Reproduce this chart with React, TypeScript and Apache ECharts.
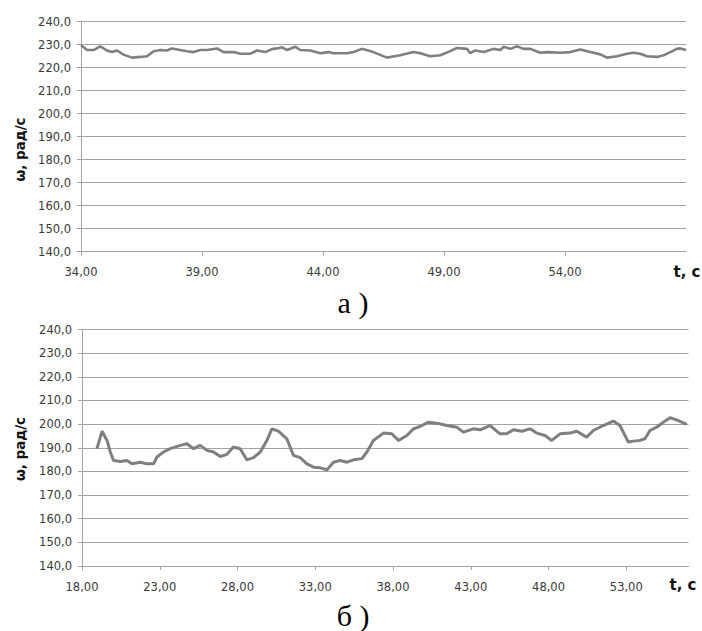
import React, { useEffect, useRef } from "react";
import * as echarts from "echarts";

// Chart а): time, s
const topT = [
  34.0, 34.25, 34.52, 34.8, 35.07, 35.28, 35.49, 35.76, 36.11, 36.45, 36.73, 37.0, 37.28, 37.55, 37.76,
  38.1, 38.38, 38.65, 38.93, 39.21, 39.62, 39.89, 40.31, 40.58, 41.0, 41.27, 41.62, 41.89, 42.1, 42.31,
  42.51, 42.86, 43.06, 43.48, 43.89, 44.23, 44.44, 44.99, 45.26, 45.61, 46.08, 46.64, 47.19, 47.74,
  48.02, 48.43, 48.85, 49.26, 49.54, 49.95, 50.09, 50.29, 50.64, 51.05, 51.33, 51.46, 51.74, 52.02,
  52.29, 52.57, 52.98, 53.26, 53.81, 54.22, 54.63, 55.05, 55.46, 55.74, 56.15, 56.56, 56.83, 57.11,
  57.39, 57.8, 58.07, 58.35, 58.62, 58.76, 59.0,
];
// Chart а): ω, rad/s
const topW = [
  229.7, 227.6, 227.6, 229.2, 227.4, 226.7, 227.4, 225.6, 224.3, 224.6, 224.9, 227.1, 227.6, 227.4, 228.3,
  227.6, 227.1, 226.7, 227.6, 227.6, 228.3, 226.7, 226.7, 226.0, 226.0, 227.4, 226.7, 228.0, 228.3, 228.8,
  227.6, 229.0, 227.6, 227.4, 226.2, 226.7, 226.2, 226.2, 226.7, 228.1, 226.7, 224.3, 225.3, 226.7,
  226.2, 224.9, 225.3, 227.1, 228.5, 228.1, 226.2, 227.4, 226.7, 228.1, 227.6, 229.0, 228.1, 229.2,
  228.1, 228.1, 226.4, 226.7, 226.4, 226.7, 227.8, 226.7, 225.7, 224.3, 224.9, 226.0, 226.4, 226.0,
  224.9, 224.6, 225.3, 226.7, 228.1, 228.3, 227.6,
];

// Chart б): time, s
const botT = [
  18.96, 19.29, 19.61, 19.82, 20.03, 20.46, 20.89, 21.21, 21.75, 22.18, 22.6, 22.82, 23.24, 23.67, 24.32,
  24.75, 25.17, 25.6, 26.03, 26.46, 26.89, 27.32, 27.74, 28.17, 28.6, 29.03, 29.46, 29.89, 30.21, 30.63,
  31.17, 31.6, 32.03, 32.46, 32.89, 33.32, 33.75, 34.17, 34.6, 35.03, 35.46, 36.0, 36.32, 36.74, 37.38,
  37.92, 38.35, 38.89, 39.31, 39.74, 40.28, 40.81, 41.46, 42.1, 42.52, 43.17, 43.6, 44.24, 44.88, 45.31,
  45.74, 46.28, 46.81, 47.24, 47.77, 48.21, 48.74, 49.38, 49.81, 50.45, 50.88, 51.52, 52.16, 52.59,
  53.13, 53.45, 53.88, 54.2, 54.52, 54.95, 55.38, 55.81, 56.24, 56.88,
];
// Chart б): ω, rad/s
const botW = [
  189.6, 197.0, 193.1, 188.2, 184.6, 184.2, 184.6, 183.2, 183.9, 183.2, 183.2, 186.1, 188.2, 189.6, 191.0,
  191.7, 189.6, 191.0, 188.9, 188.2, 186.3, 187.2, 190.3, 189.6, 184.9, 185.8, 188.2, 193.1, 198.0, 197.0,
  193.8, 186.8, 185.8, 183.2, 181.8, 181.5, 180.7, 183.9, 184.6, 183.9, 184.9, 185.4, 188.2, 193.1, 196.2,
  195.9, 193.1, 195.2, 198.0, 199.0, 200.8, 200.4, 199.4, 198.7, 196.6, 198.0, 197.6, 199.4, 195.9, 195.9,
  197.6, 197.0, 198.0, 196.2, 195.2, 193.1, 195.9, 196.2, 197.0, 194.5, 197.3, 199.4, 201.3, 199.4,
  192.4, 192.8, 193.1, 193.8, 197.3, 198.7, 200.8, 202.7, 201.8, 199.9,
];

const captions = ["а )", "б )"];
const yName = "ω, рад/с";
const xName = "t, с";

const FONT = "DejaVu Sans";
const GRID_COLOR = "#a3a3a3";
const LINE_COLOR = "#7f7f7f";

export default function App() {
  const ref = useRef<HTMLDivElement>(null);
  useEffect(() => {
    if (!ref.current) return;
    const chart = echarts.init(ref.current, undefined, { renderer: "svg" });
    const fmtY = (v: number) => v.toFixed(1).replace(".", ",");
    const fmtX = (v: number) => v.toFixed(2).replace(".", ",");
    const xAxisBase = (min: number, max: number, gi: number, margin: number) => ({
      type: "value",
      gridIndex: gi,
      min,
      max,
      interval: 5,
      axisLine: { show: true, lineStyle: { color: GRID_COLOR, width: 1 } },
      axisTick: { show: true, inside: false, length: 4, lineStyle: { color: GRID_COLOR } },
      splitLine: { show: false },
      axisLabel: {
        formatter: fmtX,
        showMaxLabel: false,
        margin,
        color: "#3a3a3a",
        fontFamily: FONT,
        fontSize: 11.5,
      },
    });
    const yAxisBase = (gi: number) => ({
      type: "value",
      gridIndex: gi,
      min: 140,
      max: 240,
      interval: 10,
      axisLine: { show: true, lineStyle: { color: GRID_COLOR, width: 1 } },
      axisTick: { show: true, inside: false, length: 4, lineStyle: { color: GRID_COLOR } },
      splitLine: { show: true, lineStyle: { color: GRID_COLOR, width: 1 } },
      axisLabel: {
        formatter: fmtY,
        margin: 10,
        color: "#3a3a3a",
        fontFamily: FONT,
        fontSize: 11.5,
      },
    });
    const textStyle = (text: string, size: number, bold: boolean, family: string) => ({
      text,
      fill: "#111",
      fontSize: size,
      fontWeight: bold ? "bold" : "normal",
      fontFamily: family,
      align: "center",
      verticalAlign: "middle",
    });
    chart.setOption({
      animation: false,
      backgroundColor: "#ffffff",
      grid: [
        { left: 81, top: 21.5, width: 605, height: 230 },
        { left: 82, top: 329.5, width: 606.5, height: 236.5 },
      ],
      xAxis: [xAxisBase(34, 59, 0, 14), xAxisBase(18, 57, 1, 15)],
      yAxis: [yAxisBase(0), yAxisBase(1)],
      series: [
        {
          type: "line",
          xAxisIndex: 0,
          yAxisIndex: 0,
          data: topT.map((t, i) => [t, topW[i]]),
          showSymbol: false,
          lineStyle: { color: LINE_COLOR, width: 2.6 },
        },
        {
          type: "line",
          xAxisIndex: 1,
          yAxisIndex: 1,
          data: botT.map((t, i) => [t, botW[i]]),
          showSymbol: false,
          lineStyle: { color: LINE_COLOR, width: 3 },
        },
      ],
      graphic: [
        { type: "text", x: 687, y: 272, style: textStyle(xName, 15, true, FONT) },
        { type: "text", x: 683, y: 585, style: textStyle(xName, 15, true, FONT) },
        { type: "text", x: 20, y: 149.5, rotation: Math.PI / 2, style: textStyle(yName, 13.5, true, FONT) },
        { type: "text", x: 20, y: 449, rotation: Math.PI / 2, style: textStyle(yName, 13.5, true, FONT) },
        { type: "text", x: 353, y: 302, style: { ...textStyle(captions[0], 30, false, "Liberation Serif"), fill: "#000" } },
        { type: "text", x: 353, y: 615, style: { ...textStyle(captions[1], 30, false, "Liberation Serif"), fill: "#000" } },
      ],
    });
    return () => chart.dispose();
  }, []);
  return (
    <div
      ref={ref}
      style={{ position: "absolute", left: 0, top: 0, width: 702, height: 631, background: "#fff" }}
    />
  );
}
